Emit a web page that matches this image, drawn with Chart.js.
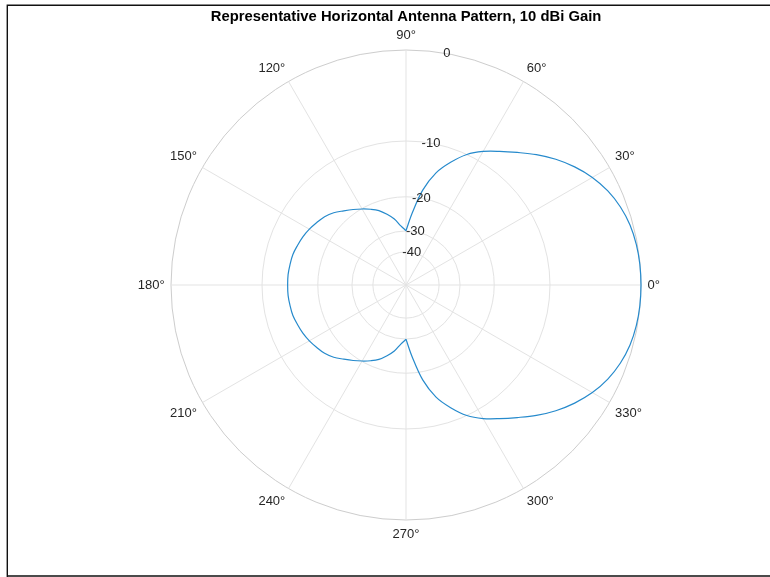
<!DOCTYPE html>
<html>
<head>
<meta charset="utf-8">
<script src="https://cdn.jsdelivr.net/npm/chart.js@4.4.1/dist/chart.umd.min.js"></script>
<style>
  html, body { margin: 0; padding: 0; background: #ffffff; }
  #wrap { width: 770px; height: 577px; position: relative; }
</style>
</head>
<body>
<div id="wrap"><canvas id="pattern" width="770" height="577"></canvas></div>
<script>
const FONT = '"Liberation Sans", Arial, Helvetica, sans-serif';

// Azimuth of each sample, degrees counter-clockwise from boresight
const angleDeg = [
    0,   5,  10,  15,  20,  25,  30,  35,  40,  45,  50,  55,
   60,  65,  70,  75,  80,  85,  90,  95, 100, 105, 110, 115,
  120, 125, 130, 135, 140, 145, 150, 155, 160, 165, 170, 175,
  180, 185, 190, 195, 200, 205, 210, 215, 220, 225, 230, 235,
  240, 245, 250, 255, 260, 265, 270, 275, 280, 285, 290, 295,
  300, 305, 310, 315, 320, 325, 330, 335, 340, 345, 350, 355
];

// Relative gain at each azimuth, dB
const gainDb = [
    0.00,  -0.02,  -0.10,  -0.27,  -0.60,  -1.10,  -1.80,  -2.70,  -3.75,  -4.95,  -6.25,  -7.45,
   -8.60, -10.00, -12.00, -14.40, -18.20, -24.00, -29.90, -28.10, -25.60, -23.80, -22.20, -21.10,
  -20.10, -19.10, -18.10, -17.00, -16.20, -15.70, -15.20, -14.80, -14.50, -14.20, -14.10, -14.00,
  -14.00, -14.00, -14.10, -14.20, -14.50, -14.80, -15.20, -15.70, -16.20, -17.00, -18.10, -19.10,
  -20.10, -21.10, -22.20, -23.80, -25.60, -28.10, -29.90, -24.00, -18.20, -14.40, -12.00, -10.00,
   -8.60,  -7.45,  -6.25,  -4.95,  -3.75,  -2.70,  -1.80,  -1.10,  -0.60,  -0.27,  -0.10,  -0.02
];

// Radial rings (dB) and labelled azimuth spokes (degrees)
const ringDb = [-40, -30, -20, -10, 0];
const angleTickDeg = [0, 30, 60, 90, 120, 150, 180, 210, 240, 270, 300, 330];
const ringLabelAngle = 80;

// Null directions that split the pattern into its front and back lobes
const nullDeg = [90, 270];

// Radius grows by a fixed factor per dB step
const DB_PER_DECADE = 47;
const toRadius = db => Math.pow(10, db / DB_PER_DECADE);

// The radial scale walks clockwise, so feed it the samples in reverse azimuth order
const n = angleDeg.length;
const cwOrder = angleDeg.map((_, i) => (n - i) % n);
const cwAngles = cwOrder.map(k => angleDeg[k]);
const ringLabelIndex = cwAngles.indexOf(ringLabelAngle);

const isFront = a => a <= nullDeg[0] || a >= nullDeg[1];
const isBack = a => a >= nullDeg[0] && a <= nullDeg[1];
const lobeData = test => cwOrder.map(k => (test(angleDeg[k]) ? toRadius(gainDb[k]) : null));

const GRID = '#e3e3e3';
const OUTER = '#cdcdcd';
const TEXT = '#262626';
const LINE = 'rgb(38,138,204)';

const pagePlugin = {
  id: 'page',
  beforeDraw(chart) {
    const ctx = chart.ctx;
    ctx.save();
    ctx.fillStyle = '#ffffff';
    ctx.fillRect(0, 0, chart.width, chart.height);
    ctx.restore();
  },
  afterDatasetsDraw(chart) {
    const s = chart.scales.r;
    const ctx = chart.ctx;
    ctx.save();
    ctx.font = '13px ' + FONT;
    ctx.fillStyle = TEXT;
    ctx.textAlign = 'center';
    ctx.textBaseline = 'middle';
    ringDb.forEach(db => {
      const p = s.getPointPositionForValue(ringLabelIndex, toRadius(db));
      ctx.fillText(String(db), p.x, p.y);
    });
    ctx.restore();
  },
  afterDraw(chart) {
    const ctx = chart.ctx;
    ctx.save();
    ctx.strokeStyle = '#111111';
    ctx.lineWidth = 1.4;
    ctx.beginPath();
    ctx.moveTo(7.3, chart.height);
    ctx.lineTo(7.3, 5.2);
    ctx.lineTo(chart.width, 5.2);
    ctx.moveTo(7.3, 576);
    ctx.lineTo(chart.width, 576);
    ctx.stroke();
    ctx.restore();
  }
};

const lobeStyle = {
  borderColor: LINE,
  borderWidth: 1.2,
  fill: false,
  tension: 0.35,
  spanGaps: false,
  pointRadius: 0,
  pointHitRadius: 0
};

new Chart(document.getElementById('pattern'), {
  type: 'radar',
  data: {
    labels: cwAngles,
    datasets: [
      Object.assign({ label: 'front', data: lobeData(isFront) }, lobeStyle),
      Object.assign({ label: 'back', data: lobeData(isBack) }, lobeStyle)
    ]
  },
  options: {
    responsive: false,
    animation: false,
    events: [],
    layout: { padding: { left: 110, right: 68, top: 0, bottom: 34 } },
    plugins: {
      legend: { display: false },
      tooltip: { enabled: false },
      title: {
        display: true,
        fullSize: false,
        text: 'Representative Horizontal Antenna Pattern, 10 dBi Gain',
        color: '#000000',
        font: { family: FONT, size: 14.8, weight: 'bold' },
        padding: { top: 7.9, bottom: 3.34 }
      }
    },
    scales: {
      r: {
        min: 0,
        max: 1,
        startAngle: 90,
        afterBuildTicks(scale) {
          scale.ticks = [{ value: 0 }].concat(ringDb.map(db => ({ value: toRadius(db) })));
        },
        ticks: { display: false },
        grid: {
          circular: true,
          lineWidth: 1,
          color: ctx => (ctx.tick && ctx.tick.value === 1 ? OUTER : GRID)
        },
        angleLines: {
          display: true,
          color: ctx => (angleTickDeg.includes(cwAngles[ctx.index]) ? GRID : 'rgba(0,0,0,0)'),
          lineWidth: ctx => (angleTickDeg.includes(cwAngles[ctx.index]) ? 1 : 0)
        },
        pointLabels: {
          display: true,
          padding: 6.4,
          color: TEXT,
          font: { family: FONT, size: 13 },
          callback: (label) => (angleTickDeg.includes(label) ? label + '°' : '')
        }
      }
    }
  },
  plugins: [pagePlugin]
});
</script>
</body>
</html>
